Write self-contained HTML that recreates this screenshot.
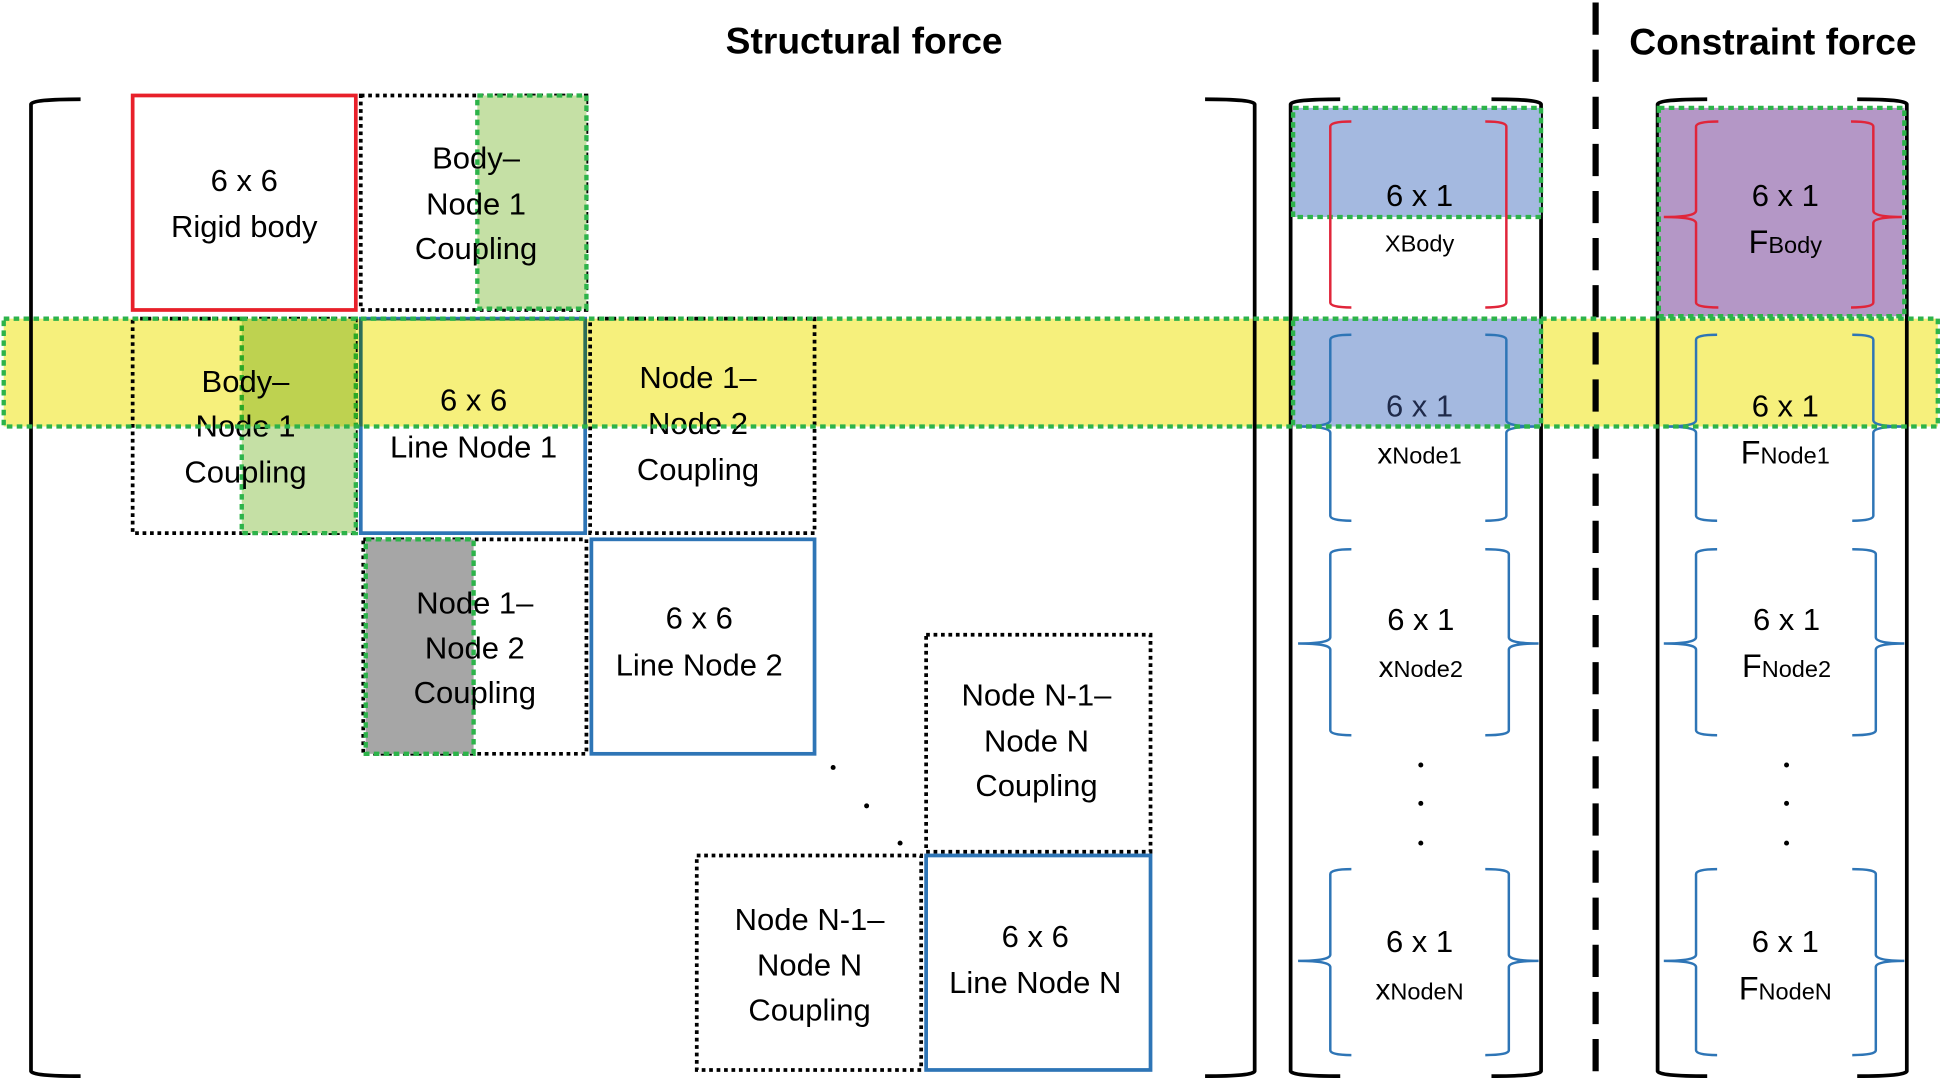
<!DOCTYPE html>
<html><head><meta charset="utf-8"><style>
html,body{margin:0;padding:0;background:#fff;}
svg{display:block;}
text{font-family:"Liberation Sans",sans-serif;fill:#000;}
</style></head><body>
<svg width="1944" height="1083" viewBox="0 0 1568 873.5" xmlns="http://www.w3.org/2000/svg">
<defs>
<style>
.t{font-size:25px;text-anchor:middle;}
.s{font-size:19px;}
.dot{fill:none;stroke:#000;stroke-width:3;stroke-dasharray:3 3;}
.gd{stroke:#2db34a;stroke-width:3.5;stroke-dasharray:4.5 3.5;}
.br{fill:none;stroke:#000;stroke-width:3;}
.bb{fill:none;stroke:#2e75b6;stroke-width:2;}
.rb{fill:none;stroke:#e0253a;stroke-width:2;}
</style>
</defs>

<!-- titles -->
<text x="697" y="43" class="t" style="font-size:30px;font-weight:bold">Structural force</text>
<text x="1430" y="44" class="t" style="font-size:30px;font-weight:bold">Constraint force</text>
<line x1="1287" y1="2" x2="1287" y2="870" stroke="#000" stroke-width="5" stroke-dasharray="26 12"/>

<!-- big brackets -->
<path class="br" d="M65,80 Q26,80 25,84 V864 Q26,868 65,868"/>
<path class="br" d="M972,80 Q1011,80 1012,84 V864 Q1011,868 972,868"/>

<!-- matrix blocks -->
<rect x="107" y="77" width="180" height="173" fill="none" stroke="#e8202a" stroke-width="3"/>
<text x="197" y="154" class="t">6 x 6</text>
<text x="197" y="191" class="t">Rigid body</text>

<rect x="291" y="77" width="182" height="173" class="dot"/>
<rect x="385" y="77" width="88" height="172" fill="#c5e0a5" class="gd"/>
<text x="384" y="136" class="t">Body–</text>
<text x="384" y="173" class="t">Node 1</text>
<text x="384" y="209" class="t">Coupling</text>

<rect x="107" y="257" width="180" height="173" class="dot"/>
<rect x="195" y="257" width="92" height="173" fill="#c5e0a5" class="gd"/>
<text x="198" y="316" class="t">Body–</text>
<text x="198" y="352" class="t">Node 1</text>
<text x="198" y="389" class="t">Coupling</text>

<rect x="291" y="257" width="181" height="173" fill="none" stroke="#2e75b6" stroke-width="3"/>
<text x="382" y="331" class="t">6 x 6</text>
<text x="382" y="369" class="t">Line Node 1</text>

<rect x="476" y="257" width="181" height="173" class="dot"/>
<text x="563" y="313" class="t">Node 1–</text>
<text x="563" y="350" class="t">Node 2</text>
<text x="563" y="387" class="t">Coupling</text>

<rect x="293" y="435" width="180" height="173" class="dot"/>
<rect x="295" y="435" width="87" height="173" fill="#a6a6a6" class="gd"/>
<text x="383" y="495" class="t">Node 1–</text>
<text x="383" y="531" class="t">Node 2</text>
<text x="383" y="567" class="t">Coupling</text>

<rect x="477" y="435" width="180" height="173" fill="none" stroke="#2e75b6" stroke-width="3"/>
<text x="564" y="507" class="t">6 x 6</text>
<text x="564" y="545" class="t">Line Node 2</text>

<circle cx="672" cy="619" r="2" fill="#000"/>
<circle cx="699" cy="650" r="2" fill="#000"/>
<circle cx="726" cy="680" r="2" fill="#000"/>

<rect x="747" y="512" width="181" height="175" class="dot"/>
<text x="836" y="569" class="t">Node N-1–</text>
<text x="836" y="606" class="t">Node N</text>
<text x="836" y="642" class="t">Coupling</text>

<rect x="562" y="690" width="181" height="173" class="dot"/>
<text x="653" y="750" class="t">Node N-1–</text>
<text x="653" y="787" class="t">Node N</text>
<text x="653" y="823" class="t">Coupling</text>

<rect x="747" y="690" width="181" height="173" fill="none" stroke="#2e75b6" stroke-width="3"/>
<text x="835" y="764" class="t">6 x 6</text>
<text x="835" y="801" class="t">Line Node N</text>

<!-- X column -->
<path class="br" d="M1081,80 Q1042,80 1041,84 V864 Q1042,868 1081,868"/>
<path class="br" d="M1203,80 Q1242,80 1243,84 V864 Q1242,868 1203,868"/>
<rect x="1043" y="87" width="200" height="88" fill="#a4b9e0" class="gd"/>

<!-- F column -->
<path class="br" d="M1377,80 Q1338,80 1337,84 V864 Q1338,868 1377,868"/>
<path class="br" d="M1498,80 Q1537,80 1538,84 V864 Q1537,868 1498,868"/>
<rect x="1338" y="87" width="198" height="168" fill="#b497c6" class="gd"/>

<!-- yellow band (multiply) -->
<rect x="3" y="257" width="1560" height="87" fill="#f6f07c" style="mix-blend-mode:multiply"/>
<rect x="1043" y="257" width="200" height="87" fill="#a4b9e0"/>

<!-- braces -->
<g class="rb">
<path d="M1090,98 Q1073,98 1073,102 V175 M1073,175 V244 Q1073,248 1090,248"/>
<path d="M1198,98 Q1215,98 1215,102 V175 M1215,175 V244 Q1215,248 1198,248"/>
<path d="M1386,98 Q1368,98 1368,102 V170 Q1368,175 1342,175 Q1368,175 1368,180 V244 Q1368,248 1386,248"/>
<path d="M1493,98 Q1511,98 1511,102 V170 Q1511,175 1534,175 Q1511,175 1511,180 V244 Q1511,248 1493,248"/>
</g>
<g class="bb">
<path d="M1090,270 Q1073,270 1073,274 V339 Q1073,344 1047,344 Q1073,344 1073,349 V416 Q1073,420 1090,420"/>
<path d="M1198,270 Q1215,270 1215,274 V339 Q1215,344 1241,344 Q1215,344 1215,349 V416 Q1215,420 1198,420"/>
<path d="M1090,443 Q1073,443 1073,447 V514 Q1073,519 1047,519 Q1073,519 1073,524 V589 Q1073,593 1090,593"/>
<path d="M1198,443 Q1217,443 1217,447 V514 Q1217,519 1241,519 Q1217,519 1217,524 V589 Q1217,593 1198,593"/>
<path d="M1090,701 Q1073,701 1073,705 V770 Q1073,775 1047,775 Q1073,775 1073,780 V847 Q1073,851 1090,851"/>
<path d="M1198,701 Q1217,701 1217,705 V770 Q1217,775 1241,775 Q1217,775 1217,780 V847 Q1217,851 1198,851"/>

<path d="M1385,270 Q1368,270 1368,274 V339 Q1368,344 1342,344 Q1368,344 1368,349 V416 Q1368,420 1385,420"/>
<path d="M1494,270 Q1511,270 1511,274 V339 Q1511,344 1536,344 Q1511,344 1511,349 V416 Q1511,420 1494,420"/>
<path d="M1385,443 Q1368,443 1368,447 V514 Q1368,519 1342,519 Q1368,519 1368,524 V589 Q1368,593 1385,593"/>
<path d="M1494,443 Q1513,443 1513,447 V514 Q1513,519 1536,519 Q1513,519 1513,524 V589 Q1513,593 1494,593"/>
<path d="M1385,701 Q1368,701 1368,705 V770 Q1368,775 1342,775 Q1368,775 1368,780 V847 Q1368,851 1385,851"/>
<path d="M1494,701 Q1513,701 1513,705 V770 Q1513,775 1536,775 Q1513,775 1513,780 V847 Q1513,851 1494,851"/>
</g>

<!-- vector labels -->
<text x="1145" y="166" class="t">6 x 1</text>
<text x="1145" y="203" class="t" style="font-size:19px">XBody</text>
<text x="1145" y="336" class="t" style="fill:#1f2a4a">6 x 1</text>
<text x="1145" y="374" class="t"><tspan style="font-size:24px">x</tspan><tspan class="s">Node1</tspan></text>
<text x="1146" y="508" class="t">6 x 1</text>
<text x="1146" y="546" class="t"><tspan style="font-size:24px">x</tspan><tspan class="s">Node2</tspan></text>
<text x="1145" y="768" class="t">6 x 1</text>
<text x="1145" y="806" class="t"><tspan style="font-size:24px">x</tspan><tspan class="s">NodeN</tspan></text>

<text x="1440" y="166" class="t">6 x 1</text>
<text x="1440" y="204" class="t"><tspan style="font-size:26px">F</tspan><tspan class="s">Body</tspan></text>
<text x="1440" y="336" class="t">6 x 1</text>
<text x="1440" y="374" class="t"><tspan style="font-size:26px">F</tspan><tspan class="s">Node1</tspan></text>
<text x="1441" y="508" class="t">6 x 1</text>
<text x="1441" y="546" class="t"><tspan style="font-size:26px">F</tspan><tspan class="s">Node2</tspan></text>
<text x="1440" y="768" class="t">6 x 1</text>
<text x="1440" y="806" class="t"><tspan style="font-size:26px">F</tspan><tspan class="s">NodeN</tspan></text>

<g fill="#000">
<circle cx="1146" cy="617" r="2"/><circle cx="1146" cy="648" r="2"/><circle cx="1146" cy="680" r="2"/>
<circle cx="1441" cy="617" r="2"/><circle cx="1441" cy="648" r="2"/><circle cx="1441" cy="680" r="2"/>
</g>

<!-- green dotted borders on top -->
<rect x="3" y="257" width="1560" height="87" fill="none" class="gd"/>
<rect x="1043" y="257" width="200" height="87" fill="none" class="gd"/>
</svg>
</body></html>
